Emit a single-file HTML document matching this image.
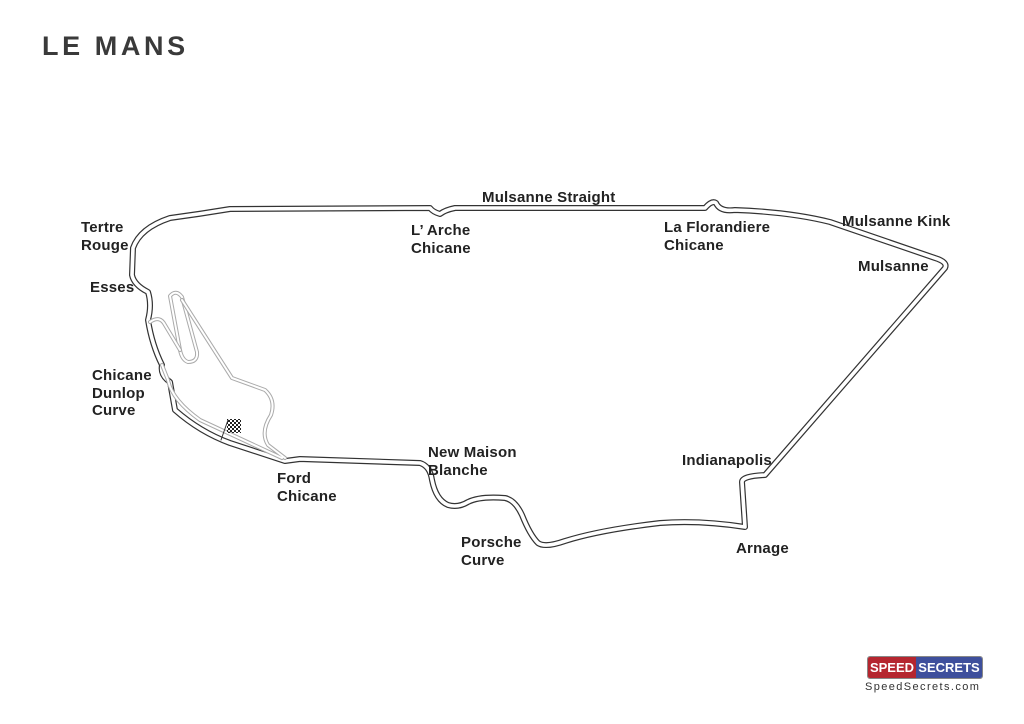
<!DOCTYPE html>
<html><head><meta charset="utf-8"><style>
html,body{margin:0;padding:0;background:#fff;}
body{width:1024px;height:724px;position:relative;overflow:hidden;font-family:"Liberation Sans",sans-serif;}
.t{position:absolute;font-weight:bold;font-size:15px;line-height:17.5px;color:#222;letter-spacing:0.2px;}
</style></head><body>
<div style="position:absolute;left:42px;top:31px;font-size:27px;font-weight:bold;letter-spacing:3.6px;color:#3a3a3a">LE MANS</div>
<svg width="1024" height="724" style="position:absolute;left:0;top:0">
<defs>
<pattern id="ck" width="4" height="4" patternUnits="userSpaceOnUse"><rect width="2" height="2" fill="#222"/><rect x="2" y="2" width="2" height="2" fill="#222"/></pattern>
</defs>
<g fill="none" stroke-linejoin="round" stroke-linecap="round">
<path d="M285,461 L300,459 L420,463 Q430,466 432,480 Q436,500 448,505 Q458,508 468,502 Q480,496 505,498 Q515,500 522,515 Q530,535 538,543 Q545,548 565,541 Q600,530 660,523 Q700,520 745,527 L742,482 Q742,476 765,475 L945,268 Q948,262 935,258 L830,222 Q790,212 735,210 Q720,212 716,203 Q712,200 705,208 L455,208 Q445,210 440,214 Q433,212 430,208 L230,209 Q200,214 170,218 Q140,228 133,248 L132,275 Q134,285 148,292 Q152,305 148,320 Q152,345 162,365 Q160,375 170,382 L175,410 Q200,432 230,443 L285,461 Z" stroke="#333" stroke-width="6"/>
<path d="M285,461 L300,459 L420,463 Q430,466 432,480 Q436,500 448,505 Q458,508 468,502 Q480,496 505,498 Q515,500 522,515 Q530,535 538,543 Q545,548 565,541 Q600,530 660,523 Q700,520 745,527 L742,482 Q742,476 765,475 L945,268 Q948,262 935,258 L830,222 Q790,212 735,210 Q720,212 716,203 Q712,200 705,208 L455,208 Q445,210 440,214 Q433,212 430,208 L230,209 Q200,214 170,218 Q140,228 133,248 L132,275 Q134,285 148,292 Q152,305 148,320 Q152,345 162,365 Q160,375 170,382 L175,410 Q200,432 230,443 L285,461 Z" stroke="#fff" stroke-width="3.6"/>
<path d="M170,296 Q176,289 182,297 L197,352 Q198,362 188,362 Q182,360 180,350 Z" stroke="#aaa" stroke-width="4"/>
<path d="M170,296 Q176,289 182,297 L197,352 Q198,362 188,362 Q182,360 180,350 Z" stroke="#fff" stroke-width="2"/>
<path d="M150,322 Q160,315 165,325 L180,350 M182,300 L232,378 L265,390 Q276,400 271,415 Q260,432 268,445 L285,458 M162,365 L168,380 Q172,400 200,420 L282,458" stroke="#aaa" stroke-width="4"/>
<path d="M150,322 Q160,315 165,325 L180,350 M182,300 L232,378 L265,390 Q276,400 271,415 Q260,432 268,445 L285,458 M162,365 L168,380 Q172,400 200,420 L282,458" stroke="#fff" stroke-width="2"/>
<line x1="221" y1="440" x2="228" y2="420" stroke="#333" stroke-width="1"/>
</g>
<rect x="227" y="419" width="14" height="14" fill="url(#ck)"/>
</svg>
<div class="t" style="left:482px;top:189px">Mulsanne Straight</div>
<div class="t" style="left:411px;top:222px">L’ Arche<br>Chicane</div>
<div class="t" style="left:664px;top:219px">La Florandiere<br>Chicane</div>
<div class="t" style="left:842px;top:213px">Mulsanne Kink</div>
<div class="t" style="left:858px;top:258px">Mulsanne</div>
<div class="t" style="left:81px;top:219px">Tertre<br>Rouge</div>
<div class="t" style="left:90px;top:279px">Esses</div>
<div class="t" style="left:92px;top:367px">Chicane<br>Dunlop<br>Curve</div>
<div class="t" style="left:277px;top:470px">Ford<br>Chicane</div>
<div class="t" style="left:428px;top:444px">New Maison<br>Blanche</div>
<div class="t" style="left:682px;top:452px">Indianapolis</div>
<div class="t" style="left:461px;top:534px">Porsche<br>Curve</div>
<div class="t" style="left:736px;top:540px">Arnage</div>
<div style="position:absolute;left:867px;top:656px;width:114px;height:21px;border:1px solid #888;border-radius:3px;overflow:hidden;display:flex;font-size:13px;font-weight:bold;color:#fff;line-height:21px">
<div style="background:#b5262f;width:48px;text-align:center">SPEED</div><div style="background:#3e4f9c;flex:1;text-align:center">SECRETS</div></div>
<div style="position:absolute;left:865px;top:681px;font-size:11px;letter-spacing:1.4px;color:#333">SpeedSecrets.com</div>
</body></html>
